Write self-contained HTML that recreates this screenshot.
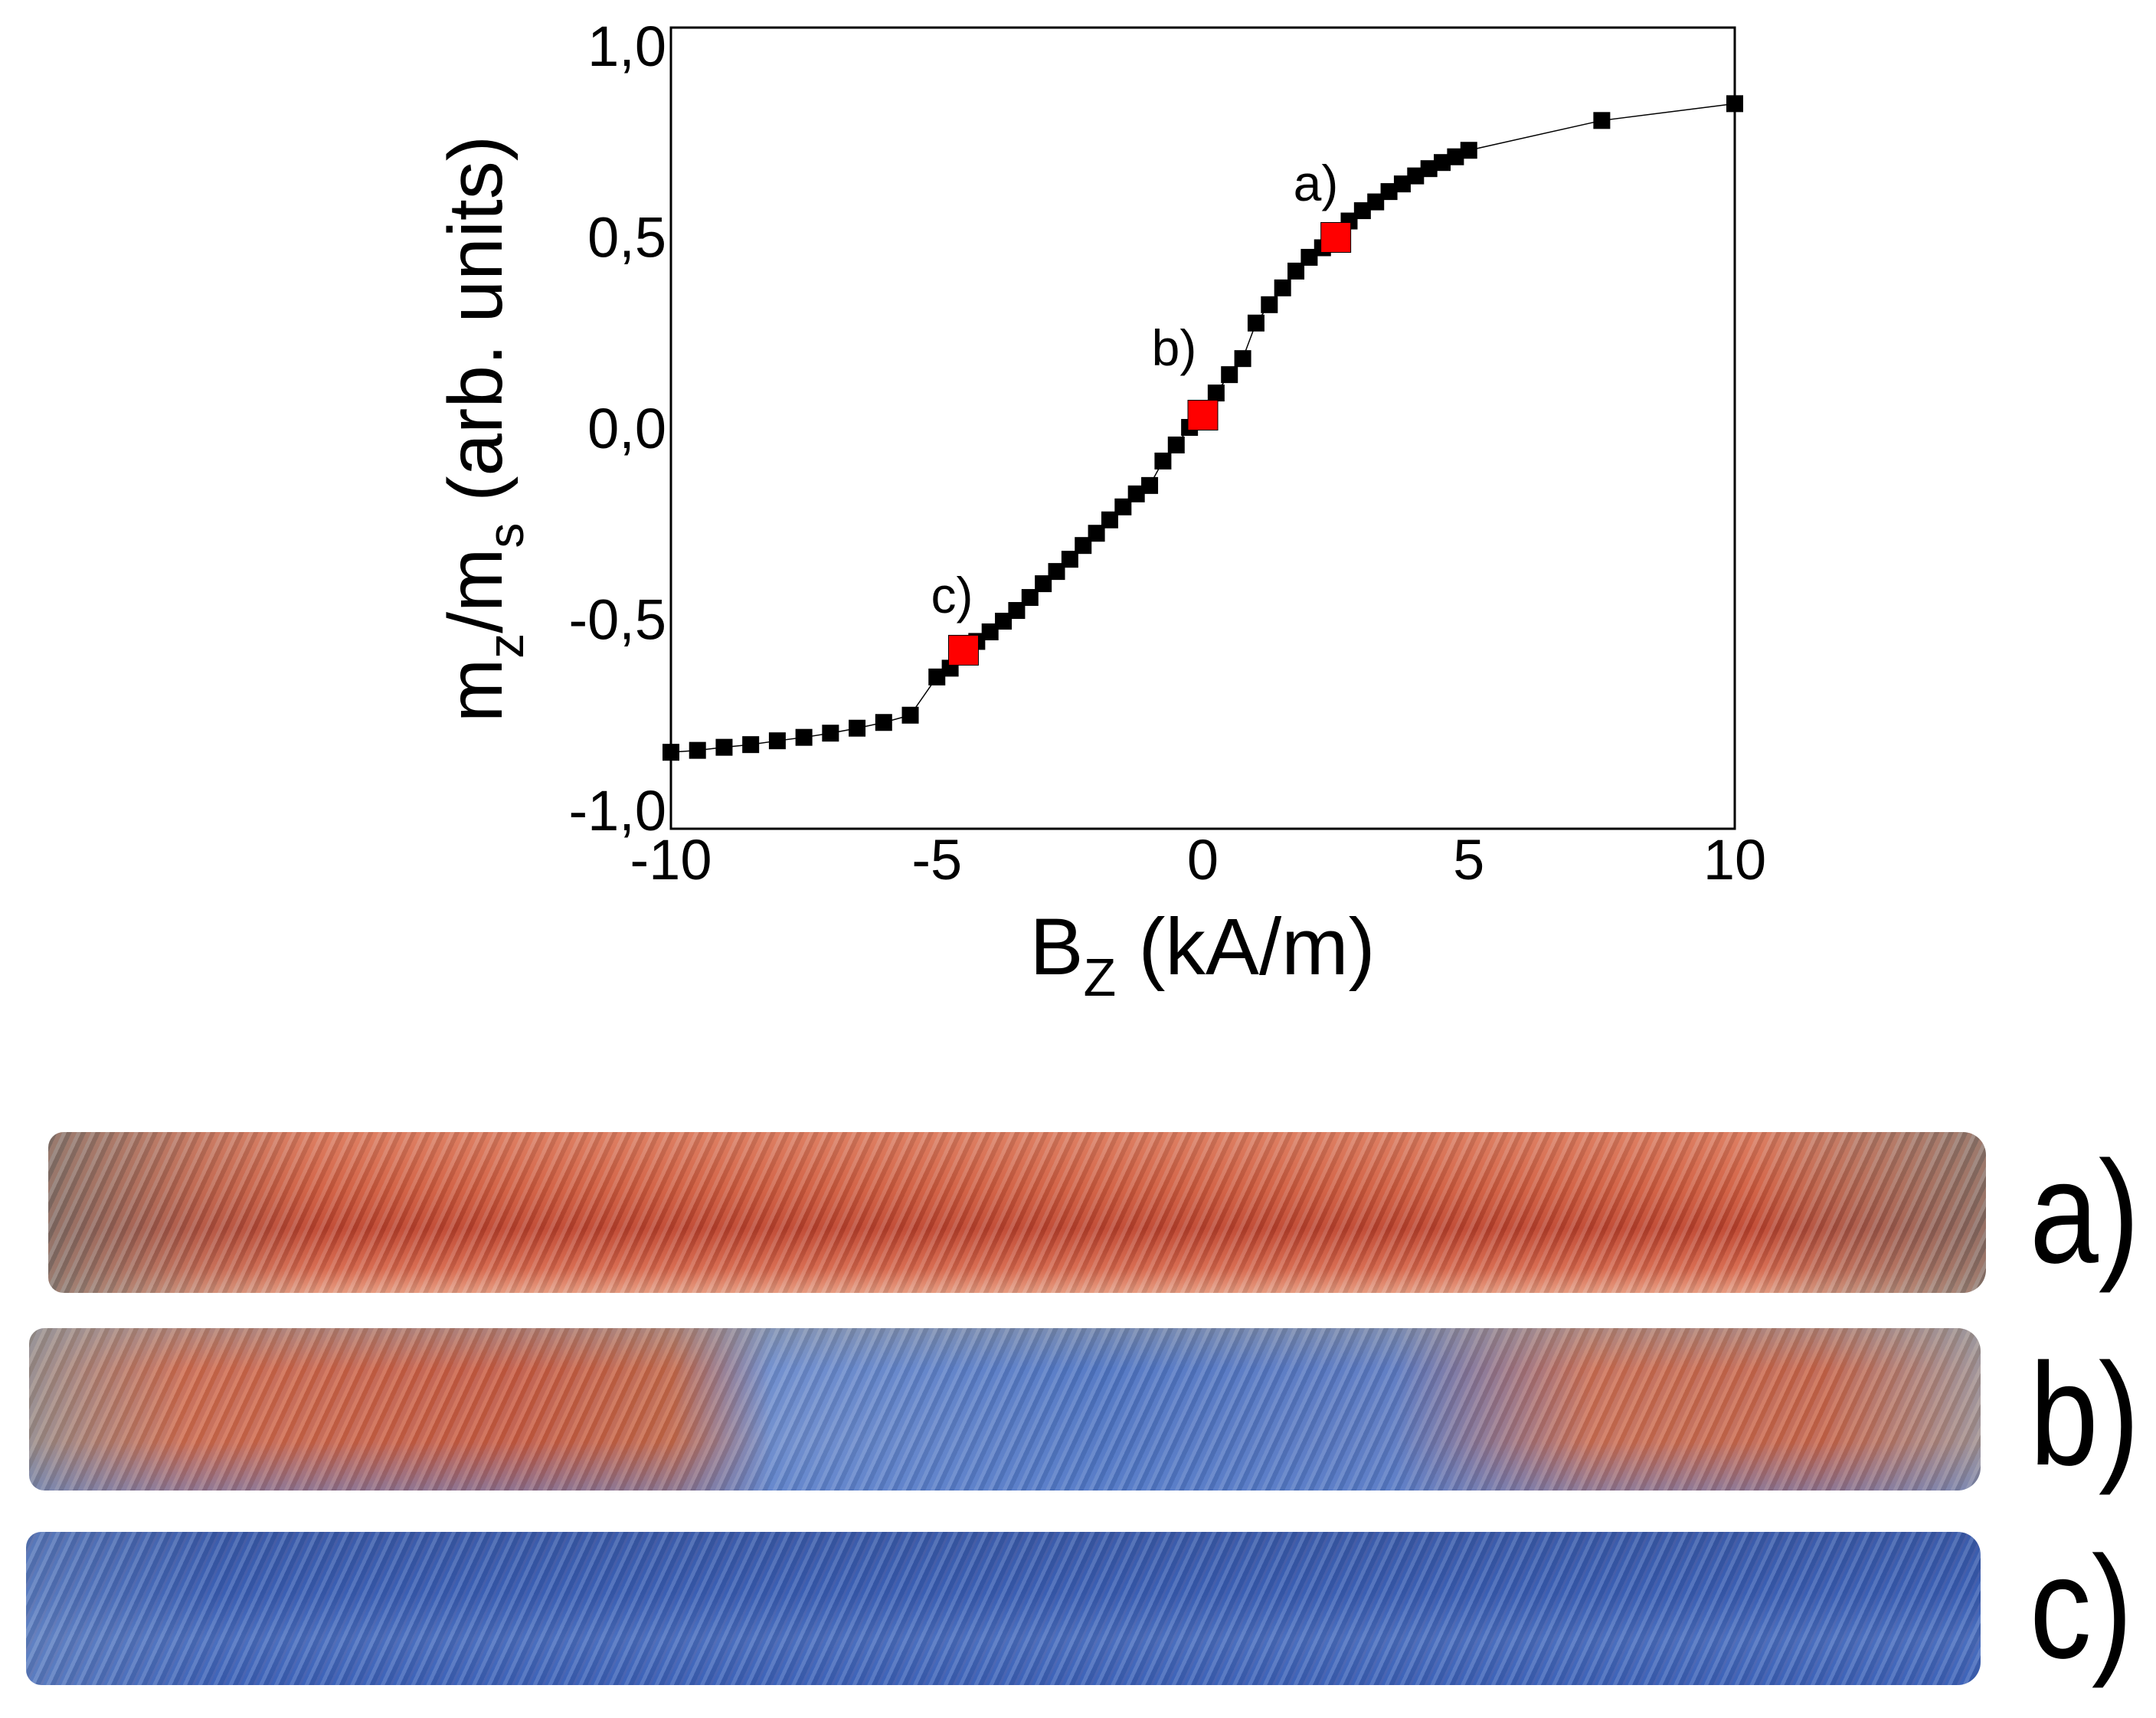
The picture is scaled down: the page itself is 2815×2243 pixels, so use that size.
<!DOCTYPE html>
<html><head><meta charset="utf-8">
<style>
html,body{margin:0;padding:0;background:#fff;}
#root{position:relative;width:2815px;height:2243px;overflow:hidden;background:#fff;font-family:"Liberation Sans",Arial,sans-serif;}
svg text{font-family:"Liberation Sans",Arial,sans-serif;}
.tube{position:absolute;border-radius:20px 30px 30px 20px;}
.tl{position:absolute;font-size:190px;color:#000;line-height:1;transform:scaleX(0.85);transform-origin:left center;}
</style></head>
<body>
<div id="root">
<svg id="chart" width="2815" height="1320" style="position:absolute;left:0;top:0">
  <g id="ticks"></g>
  <polyline id="curve" fill="none" stroke="#000" stroke-width="1.5"></polyline>
  <g id="marks"></g>
  <rect x="876" y="36" width="1389" height="1046" fill="none" stroke="#000" stroke-width="3"></rect>
  <text x="1570" y="1272" font-size="105" text-anchor="middle">B<tspan font-size="70" dy="28">Z</tspan><tspan dy="-28"> (kA/m)</tspan></text>
  <text transform="translate(655,560) rotate(-90)" font-size="100" text-anchor="middle">m<tspan font-size="66" dy="28">z</tspan><tspan dy="-28">/m</tspan><tspan font-size="66" dy="28">s</tspan><tspan dy="-28"> (arb. units)</tspan></text>
  <text x="1718" y="262" font-size="66" text-anchor="middle">a)</text>
  <text x="1533" y="477" font-size="66" text-anchor="middle">b)</text>
  <text x="1243" y="800" font-size="66" text-anchor="middle">c)</text>
</svg>

<div class="tube" style="left:63px;top:1478px;width:2530px;height:210px;
background:
repeating-linear-gradient(115deg,rgba(255,255,255,0.18) 0 5px,rgba(0,0,0,0.08) 5px 11px,rgba(255,160,130,0.15) 11px 17px),
linear-gradient(90deg,rgba(120,115,110,0.85) 0%,rgba(140,110,100,0.3) 8%,rgba(0,0,0,0) 14%,rgba(0,0,0,0) 88%,rgba(120,115,110,0.8) 100%),
linear-gradient(180deg,#d97a5e 0%,#cc5a3e 35%,#b8402c 60%,#d2644a 85%,#e29a80 100%);"></div>
<div class="tube" style="left:38px;top:1734px;width:2548px;height:212px;
background:
repeating-linear-gradient(115deg,rgba(255,255,255,0.16) 0 5px,rgba(0,0,0,0.07) 5px 11px,rgba(160,180,230,0.12) 11px 17px),
linear-gradient(180deg,rgba(150,150,150,0.5) 0%,rgba(0,0,0,0) 25%,rgba(0,0,0,0) 70%,rgba(80,120,200,0.5) 100%),
linear-gradient(90deg,#9a8c88 0%,#cf6a4c 8%,#c85a40 25%,#c66848 33%,#6d8ccc 38%,#4e74c2 55%,#5a78c0 70%,#cc6e52 80%,#c86448 92%,#a09090 100%);"></div>
<div class="tube" style="left:34px;top:2000px;width:2552px;height:200px;
background:
repeating-linear-gradient(115deg,rgba(255,255,255,0.14) 0 5px,rgba(0,0,30,0.1) 5px 11px,rgba(200,100,80,0.08) 11px 14px,rgba(0,0,0,0) 14px 18px),
linear-gradient(90deg,rgba(120,150,200,0.5) 0%,rgba(0,0,0,0) 10%),
linear-gradient(180deg,#3b5cab 0%,#3a5fb4 40%,#4a6fbf 70%,#3c62b8 100%);"></div>

<div class="tl" style="left:2650px;top:1488px;">a)</div>
<div class="tl" style="left:2650px;top:1752px;">b)</div>
<div class="tl" style="left:2650px;top:2004px;">c)</div>
</div>
<script>
const fieldValues=[-10,-9.5,-9,-8.5,-8,-7.5,-7,-6.5,-6,-5.5,-5,-4.75,-4.5,-4.25,-4,-3.75,-3.5,-3.25,-3,-2.75,-2.5,-2.25,-2,-1.75,-1.5,-1.25,-1,-0.75,-0.5,-0.25,0,0.25,0.5,0.75,1,1.25,1.5,1.75,2,2.25,2.5,2.75,3,3.25,3.5,3.75,4,4.25,4.5,4.75,5,7.5,10];
const magValues=[-0.85,-0.845,-0.837,-0.83,-0.82,-0.811,-0.8,-0.787,-0.772,-0.753,-0.653,-0.63,-0.583,-0.56,-0.535,-0.507,-0.479,-0.445,-0.409,-0.377,-0.345,-0.309,-0.277,-0.242,-0.208,-0.174,-0.152,-0.088,-0.046,0.0,0.032,0.09,0.138,0.18,0.273,0.321,0.365,0.409,0.445,0.47,0.497,0.54,0.567,0.59,0.617,0.637,0.658,0.677,0.693,0.708,0.725,0.803,0.847];
const highlighted=[-4.5,0,2.5];
const xTicks=[-10,-5,0,5,10];
const yTicks=[-1,-0.5,0,0.5,1];
const yTickLabels=["-1,0","-0,5","0,0","0,5","1,0"];
const NS='http://www.w3.org/2000/svg';
function xs(v){return 1570.5+v*69.45;}
function ys(v){return 558-v*499;}
const ticks=document.getElementById('ticks');
xTicks.forEach(v=>{const t=document.createElementNS(NS,'text');


t.setAttribute('x',xs(v));t.setAttribute('y',1148);t.setAttribute('font-size','74');t.setAttribute('text-anchor','middle');
t.textContent=String(v);ticks.appendChild(t);});
yTicks.forEach((v,i)=>{const t=document.createElementNS(NS,'text');


t.setAttribute('x',870);t.setAttribute('y',ys(v)+27);t.setAttribute('font-size','74');t.setAttribute('text-anchor','end');
t.textContent=yTickLabels[i];ticks.appendChild(t);});
document.getElementById('curve').setAttribute('points',fieldValues.map((x,i)=>xs(x)+','+ys(magValues[i])).join(' '));
const marks=document.getElementById('marks');
fieldValues.forEach((x,i)=>{const hl=highlighted.indexOf(x)>=0;const s=hl?39:22;
const r=document.createElementNS(NS,'rect');


r.setAttribute('x',xs(x)-s/2);r.setAttribute('y',ys(magValues[i])-s/2);r.setAttribute('width',s);r.setAttribute('height',s);
r.setAttribute('fill',hl?'#ff0000':'#000');if(hl){r.setAttribute('stroke','#000');r.setAttribute('stroke-width','1');}
marks.appendChild(r);});
// bring highlighted points to front
Array.from(marks.querySelectorAll('[fill="#ff0000"]')).forEach(el=>marks.appendChild(el));
</script>
</body></html>
